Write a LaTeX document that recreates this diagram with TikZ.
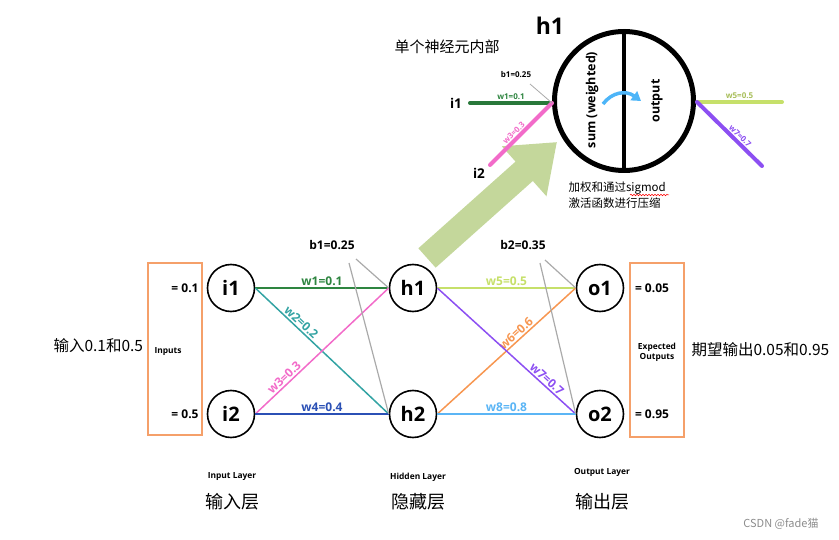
\documentclass[tikz,border=0pt]{standalone}
\usepackage{fontspec}
\setmainfont{Open Sans}
\newfontfamily\cjk{Noto Sans CJK SC}
\usetikzlibrary{arrows.meta,decorations.pathmorphing}
\definecolor{cw1}{HTML}{2E8540}
\definecolor{cw2}{HTML}{33A3A3}
\definecolor{cw3}{HTML}{F26BC9}
\definecolor{cw4}{HTML}{2B50B5}
\definecolor{cw5}{HTML}{C6E06A}
\definecolor{cw6}{HTML}{F79650}
\definecolor{cw7}{HTML}{8C4FF2}
\definecolor{cw8}{HTML}{5BB5F5}
\definecolor{cbias}{HTML}{AAAAAA}
\definecolor{cbox}{HTML}{F5A06A}
\definecolor{cbig}{HTML}{C4D79B}
\definecolor{ccurl}{HTML}{4DB5F8}
\begin{document}
\begin{tikzpicture}[x=1pt,y=-1pt,
  neuron/.style={circle,draw,line width=1.6,minimum size=47,inner sep=0,font=\bfseries\fontsize{20}{20}\selectfont},
  edge/.style={line width=1.5},
  wlab/.style={font=\bfseries\fontsize{12}{12}\selectfont,inner sep=1.5},
  bias/.style={draw=cbias,line width=1.2},
  blab/.style={font=\bfseries\fontsize{12}{12}\selectfont},
  obox/.style={draw=cbox,line width=2,minimum width=54},
  vlab/.style={font=\bfseries\fontsize{12}{12}\selectfont},
  tiny/.style={font=\bfseries\fontsize{8.4}{10}\selectfont,align=center},
  zh/.style={font=\cjk\fontsize{15.5}{18}\selectfont},
  zhl/.style={font=\cjk\fontsize{18}{20}\selectfont},
  topw/.style={line width=4},
  toplab/.style={font=\bfseries\fontsize{8}{9}\selectfont,inner sep=1}]
\useasboundingbox (0,0) rectangle (839,540);
% big green arrow
\coordinate (ga) at (427,258);
\coordinate (gb) at (557,142);
\draw[cbig,line width=26,-{Triangle[length=44pt,width=64pt]}] (ga) -- (gb);

% ---------- network ----------
\node[neuron] (i1) at (231,288) {i1};
\node[neuron] (i2) at (231,414) {i2};
\node[neuron] (h1) at (413,288) {h1};
\node[neuron] (h2) at (413,414) {h2};
\node[neuron] (o1) at (600,288) {o1};
\node[neuron] (o2) at (600,414) {o2};

\draw[edge,cw1] (i1.east) -- node[wlab,above] {w1=0.1} (h1.west);
\draw[edge,cw2] (i1.east) -- node[wlab,sloped,above,pos=0.31] {w2=0.2} (h2.west);
\draw[edge,cw3] (i2.east) -- node[wlab,sloped,above,pos=0.25] {w3=0.3} (h1.west);
\draw[edge,cw4] (i2.east) -- node[wlab,above] {w4=0.4} (h2.west);
\draw[edge,cw5] (h1.east) -- node[wlab,above] {w5=0.5} (o1.west);
\draw[edge,cw6] (h2.east) -- node[wlab,sloped,above,pos=0.6] {w6=0.6} (o1.west);
\draw[edge,cw7] (h1.east) -- node[wlab,sloped,above,pos=0.76] {w7=0.7} (o2.west);
\draw[edge,cw8] (h2.east) -- node[wlab,above] {w8=0.8} (o2.west);

\node[blab] (b1) at (332,245) {b1=0.25};
\coordinate (b1a) at (349,263);
\coordinate (b1b) at (356,259);
\draw[bias] (b1a) -- (h2.west);
\draw[bias] (b1b) -- (h1.west);
\node[blab] (b2) at (523,245) {b2=0.35};
\coordinate (b2a) at (540,263);
\coordinate (b2b) at (545,260);
\draw[bias] (b2a) -- (o2.west);
\draw[bias] (b2b) -- (o1.west);

\node[obox,minimum height=172] (inbox) at (175,349) {};
\node[vlab] (v1) at (185,288) {= 0.1};
\node[vlab] (v2) at (185,414) {= 0.5};
\node[tiny] (inl) at (168,352) {Inputs};
\node[obox,minimum height=174] (outbox) at (657,350) {};
\node[vlab] (v3) at (652,288) {= 0.05};
\node[vlab] (v4) at (652,414) {= 0.95};
\node[tiny] (outl) at (657,352) {Expected\\Outputs};

\node[zh,anchor=west] (zin) at (50,346) {输入0.1和0.5};
\node[zh,anchor=west] (zout) at (688,350) {期望输出0.05和0.95};

\node[tiny] (L1) at (232,477) {Input Layer};
\node[tiny] (L2) at (418,477) {Hidden Layer};
\node[tiny] (L3) at (602,472) {Output Layer};
\node[zhl] (Z1) at (232,502) {输入层};
\node[zhl] (Z2) at (418,502) {隐藏层};
\node[zhl] (Z3) at (602,502) {输出层};

% ---------- single neuron ----------
\node[circle,draw,line width=5,minimum size=139,inner sep=0] (big) at (624,101) {};
\draw[line width=4] (big.north) -- (big.south);
\node[font=\bfseries\fontsize{23}{23}\selectfont] (bigt) at (550,26) {h1};
\node[font=\cjk\fontsize{15}{17}\selectfont] (zneu) at (447,47) {单个神经元内部};
\node[font=\bfseries\fontsize{12.5}{12.5}\selectfont,rotate=90] (sumt) at (592,100) {sum (weighted)};
\node[font=\bfseries\fontsize{12.5}{12.5}\selectfont,rotate=90] (outt) at (657,101) {output};
\draw[ccurl,line width=3.5,-{Triangle[length=9pt,width=11pt]}] (603,104) .. controls (612,92) and (626,90) .. (641,101);

\coordinate (hin) at (552,103);
\coordinate (ti1) at (470,103);
\coordinate (ti2) at (490,165);
\coordinate (tb) at (530,84);
\node[font=\bfseries\fontsize{13.5}{13.5}\selectfont] (ti1t) at (456,103) {i1};
\node[font=\bfseries\fontsize{13.5}{13.5}\selectfont] (ti2t) at (479,173) {i2};
\draw[topw,cw1!90!black,line cap=round] (ti1) -- node[toplab,above,text=cw1] {w1=0.1} (hin);
\draw[topw,cw3,line cap=round] (ti2) -- node[toplab,sloped,above,pos=0.45] {w3=0.3} (hin);
\draw[bias,line width=0.8] (tb) -- (hin);
\node[toplab] (tbt) at (516,75) {b1=0.25};

\coordinate (hout) at (697,102);
\coordinate (to5) at (782,102);
\coordinate (to7) at (762,166);
\draw[topw,cw5,line cap=round] (hout) -- node[toplab,above,pos=0.5,text=cw5!85!black] {w5=0.5} (to5);
\draw[topw,cw7,line cap=round] (hout) -- node[toplab,sloped,above,pos=0.6] {w7=0.7} (to7);

\node[font=\cjk\fontsize{11.5}{16}\selectfont,align=left,anchor=west] (zdesc) at (565,195) {加权和通过sigmod\\激活函数进行压缩};
\draw[red,line width=0.5,decorate,decoration={snake,amplitude=0.8pt,segment length=3pt}] (630,195) -- (669,195);

\node[font=\cjk\fontsize{11}{12}\selectfont,text=black!45] (wm) at (781,524) {CSDN @fade猫};
\end{tikzpicture}
\end{document}
